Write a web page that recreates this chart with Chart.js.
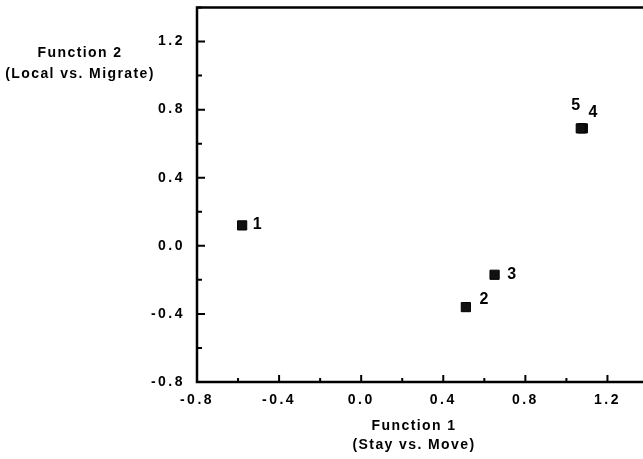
<!DOCTYPE html>
<html>
<head>
<meta charset="utf-8">
<script src="https://cdn.jsdelivr.net/npm/chart.js@4.4.0/dist/chart.umd.min.js"></script>
<style>
  html, body { margin: 0; padding: 0; background: #fff; overflow: hidden; }
  #wrap { position: relative; width: 643px; height: 459px; overflow: hidden; }
  #box { position: absolute; left: 0; top: 0; width: 656px; height: 459px; }
</style>
</head>
<body>
<div id="wrap"><div id="box"><canvas id="c"></canvas></div></div>
<script>
// ---- data ----
const pointLabels = ['1', '2', '3', '4', '5'];
const xValues = [-0.58, 0.51, 0.65, 1.08, 1.07];
const yValues = [0.12, -0.36, -0.17, 0.69, 0.69];
const xTickLabels = ['-0.8', '-0.4', '0.0', '0.4', '0.8', '1.2'];
const yTickLabels = ['-0.8', '-0.4', '0.0', '0.4', '0.8', '1.2'];
const xTitle = ['Function 1', '(Stay vs. Move)'];
const yTitle = ['Function 2', '(Local vs. Migrate)'];

// label offsets (pixels) relative to each point
const labelOffsets = [[15, -1], [18, -8], [17, 0], [10, -16], [-5, -23]];

const points = xValues.map((x, i) => ({ x: x, y: yValues[i] }));
const FONT = '"Liberation Sans", Arial, sans-serif';

function fmt(v) {
  const s = (Math.round(v * 10) / 10).toFixed(1);
  return s === '-0.0' ? '0.0' : s;
}
function tickCb(labels) {
  return function (v) {
    const t = fmt(v);
    return labels.includes(t) ? t : '';
  };
}

const framePlugin = {
  id: 'frame',
  beforeDraw(chart) {
    chart.ctx.letterSpacing = '2.5px';
  },
  afterDraw(chart) {
    const ctx = chart.ctx;
    const a = chart.chartArea;
    const xs = chart.scales.x, ys = chart.scales.y;
    ctx.save();
    ctx.letterSpacing = '0px';
    ctx.strokeStyle = '#000';
    ctx.lineWidth = 2.5;
    ctx.strokeRect(a.left, a.top, a.right - a.left, a.bottom - a.top);
    // inward ticks
    ctx.lineWidth = 2;
    ctx.beginPath();
    xs.ticks.forEach(t => {
      const px = xs.getPixelForValue(t.value);
      const major = xTickLabels.includes(fmt(t.value));
      ctx.moveTo(px, a.bottom);
      ctx.lineTo(px, a.bottom - (major ? 7 : 4));
    });
    ys.ticks.forEach(t => {
      const py = ys.getPixelForValue(t.value);
      const major = yTickLabels.includes(fmt(t.value));
      ctx.moveTo(a.left, py);
      ctx.lineTo(a.left + (major ? 8 : 5), py);
    });
    ctx.stroke();

    // point labels
    ctx.fillStyle = '#000';
    ctx.font = 'bold 16px ' + FONT;
    ctx.textAlign = 'center';
    ctx.textBaseline = 'middle';
    points.forEach((p, i) => {
      const px = xs.getPixelForValue(p.x) + labelOffsets[i][0];
      const py = ys.getPixelForValue(p.y) + labelOffsets[i][1];
      ctx.fillText(pointLabels[i], px, py);
    });

    // axis titles
    ctx.letterSpacing = '1.4px';
    ctx.font = 'bold 14px ' + FONT;
    ctx.fillText(xTitle[0], 414, 426);
    ctx.fillText(xTitle[1], 414, 445);
    ctx.fillText(yTitle[0], 80, 53);
    ctx.fillText(yTitle[1], 80, 74);
    ctx.restore();
    ctx.letterSpacing = '0px';
  }
};

new Chart(document.getElementById('c'), {
  type: 'scatter',
  data: {
    datasets: [{
      data: points,
      pointStyle: 'rect',
      pointRadius: 6.5,
      pointHoverRadius: 6.5,
      backgroundColor: '#111',
      borderColor: '#000',
      borderWidth: 1
    }]
  },
  options: {
    responsive: true,
    maintainAspectRatio: false,
    animation: false,
    events: [],
    layout: { padding: { top: 5, right: 3, left: 0, bottom: 0 } },
    plugins: { legend: { display: false }, tooltip: { enabled: false } },
    scales: {
      x: {
        type: 'linear',
        min: -0.8, max: 1.4,
        grid: { display: false, drawTicks: false },
        border: { display: false },
        ticks: {
          stepSize: 0.2,
          autoSkip: false,
          maxRotation: 0,
          padding: 10,
          color: '#000',
          font: { family: FONT, size: 14, weight: 'bold' },
          callback: tickCb(xTickLabels)
        },
        afterFit(s) { s.height = 77; s.paddingLeft = 0; s.paddingRight = 0; }
      },
      y: {
        type: 'linear',
        min: -0.8, max: 1.4,
        grid: { display: false, drawTicks: false },
        border: { display: false },
        ticks: {
          stepSize: 0.2,
          autoSkip: false,
          padding: 12,
          color: '#000',
          font: { family: FONT, size: 14, weight: 'bold' },
          callback: tickCb(yTickLabels)
        },
        afterFit(s) { s.width = 197; s.paddingTop = 0; s.paddingBottom = 0; }
      }
    }
  },
  plugins: [framePlugin]
});
</script>
</body>
</html>
